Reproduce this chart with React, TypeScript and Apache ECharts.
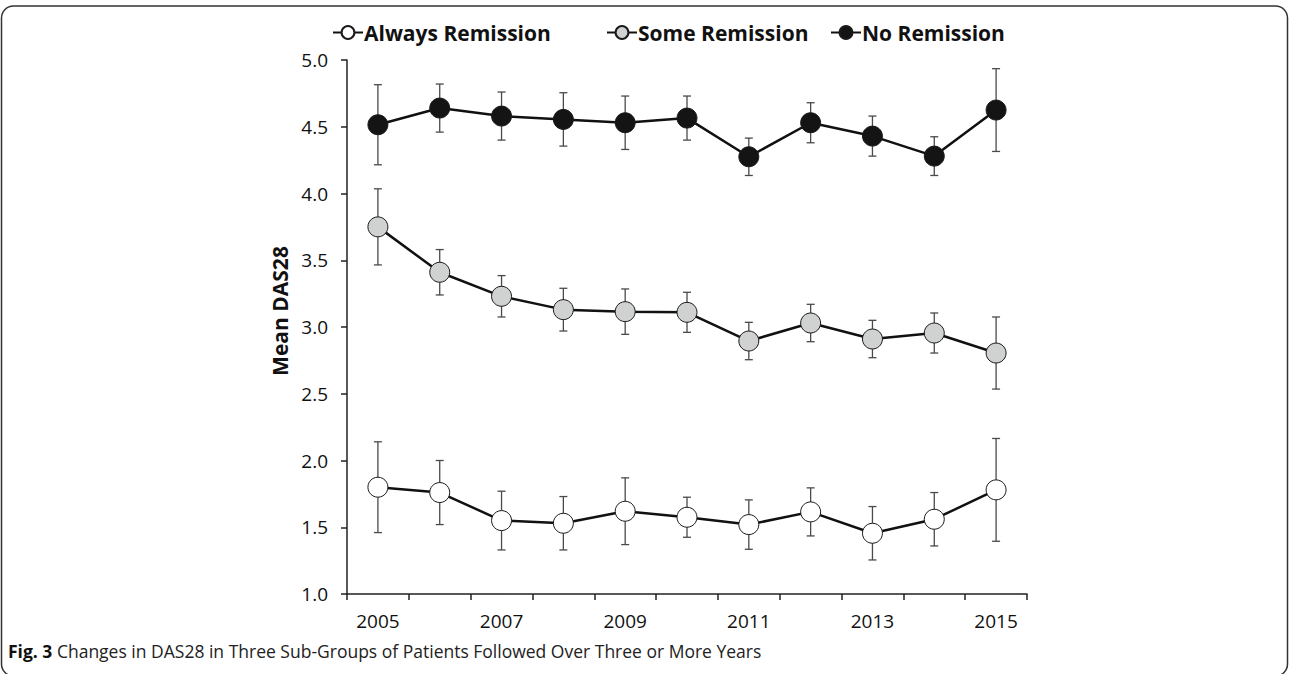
import React, { useEffect, useRef } from "react";
import * as echarts from "echarts";

const years = ["2005", "2006", "2007", "2008", "2009", "2010", "2011", "2012", "2013", "2014", "2015"];
const alwaysMean = [1.80, 1.76, 1.55, 1.53, 1.62, 1.575, 1.52, 1.615, 1.455, 1.56, 1.78];
const alwaysErr = [0.34, 0.24, 0.22, 0.2, 0.25, 0.15, 0.185, 0.18, 0.2, 0.2, 0.385];
const someMean = [3.75, 3.41, 3.23, 3.13, 3.115, 3.11, 2.895, 3.03, 2.91, 2.955, 2.805];
const someErr = [0.285, 0.17, 0.155, 0.16, 0.17, 0.15, 0.14, 0.14, 0.14, 0.15, 0.27];
const noMean = [4.515, 4.64, 4.58, 4.555, 4.53, 4.565, 4.275, 4.53, 4.43, 4.28, 4.625];
const noErr = [0.3, 0.18, 0.18, 0.2, 0.2, 0.165, 0.14, 0.15, 0.15, 0.145, 0.31];
const yTicks = { min: 1, max: 5, interval: 0.5 };
const seriesNames = ["Always Remission", "Some Remission", "No Remission"];
const seriesFills = ["#ffffff", "#d0d2d1", "#141414"];
const yTitle = "Mean DAS28";
const caption = { bold: "Fig. 3", rest: " Changes in DAS28 in Three Sub-Groups of Patients Followed Over Three or More Years" };

const FONT = "'Open Sans', 'Noto Sans', sans-serif";

export default function App() {
  const ref = useRef<HTMLDivElement>(null);
  useEffect(() => {
    if (!ref.current) return;
    const chart = echarts.init(ref.current, undefined, { renderer: "svg" });
    const means = [alwaysMean, someMean, noMean];
    const errs = [alwaysErr, someErr, noErr];

    const errSeries = means.map((m, k) => ({
      type: "custom",
      name: seriesNames[k] + " err",
      z: 1,
      silent: true,
      encode: { x: 0, y: 1 },
      data: m.map((v, i) => [i, v, errs[k][i]]),
      renderItem: (params: any, api: any) => {
        const x = api.value(0);
        const v = api.value(1);
        const e = api.value(2);
        const top = api.coord([x, v + e]);
        const bot = api.coord([x, v - e]);
        const cw = 4;
        const style = { stroke: "#4a4a4a", lineWidth: 1.3 };
        return {
          type: "group",
          children: [
            { type: "line", shape: { x1: top[0], y1: top[1], x2: bot[0], y2: bot[1] }, style },
            { type: "line", shape: { x1: top[0] - cw, y1: top[1], x2: top[0] + cw, y2: top[1] }, style },
            { type: "line", shape: { x1: bot[0] - cw, y1: bot[1], x2: bot[0] + cw, y2: bot[1] }, style },
          ],
        };
      },
    }));

    const lineSeries = means.map((m, k) => ({
      type: "line",
      name: seriesNames[k],
      z: 3,
      data: m,
      symbol: "circle",
      symbolSize: 20,
      itemStyle: { color: seriesFills[k], borderColor: "#1a1a1a", borderWidth: 1 },
      lineStyle: { color: "#111111", width: 2.5 },
    }));

    const legendLefts = [332, 606, 830];
    const legends = seriesNames.map((n, k) => ({
      data: [n],
      left: legendLefts[k],
      top: 22,
      itemWidth: 30,
      itemHeight: 16,
      itemGap: 0,
      padding: 0,
      selectedMode: false,
      textStyle: { fontFamily: FONT, fontWeight: "bold", fontSize: 21, color: "#111", padding: [0, 0, 0, -4] },
    }));

    chart.setOption({
      animation: false,
      backgroundColor: "#ffffff",
      legend: legends,
      grid: { left: 347, right: 263, top: 60, bottom: 80, containLabel: false },
      xAxis: {
        type: "category",
        data: years,
        boundaryGap: true,
        axisLine: { lineStyle: { color: "#222", width: 1.5 } },
        axisTick: { show: true, interval: 0, length: 6, lineStyle: { color: "#222", width: 1.5 } },
        axisLabel: { interval: 1, fontFamily: FONT, fontSize: 19, color: "#111", margin: 17 },
      },
      yAxis: {
        type: "value",
        min: yTicks.min,
        max: yTicks.max,
        interval: yTicks.interval,
        splitLine: { show: false },
        axisLine: { show: true, lineStyle: { color: "#222", width: 1.5 } },
        axisTick: { show: true, length: 6, lineStyle: { color: "#222", width: 1.5 } },
        axisLabel: { fontFamily: FONT, fontSize: 19, color: "#111", margin: 19, formatter: (v: number) => v.toFixed(1) },
      },
      graphic: [
        {
          type: "rect",
          shape: { x: 1.5, y: 6, width: 1286, height: 670, r: 12 },
          style: { fill: "none", stroke: "#333", lineWidth: 1.5 },
          silent: true,
        },
        {
          type: "text",
          x: 280,
          y: 311,
          rotation: Math.PI / 2,
          style: {
            text: yTitle,
            fontFamily: FONT,
            fontWeight: "bold",
            fontSize: 21,
            fill: "#111",
            align: "center",
            verticalAlign: "middle",
          },
        },
        {
          type: "text",
          left: 8,
          top: 642,
          style: {
            text: "{b|" + caption.bold + "}{r|" + caption.rest + "}",
            rich: {
              b: { fontFamily: FONT, fontWeight: "bold", fontSize: 17.5, fill: "#111" },
              r: { fontFamily: FONT, fontSize: 17.5, fill: "#222" },
            },
          },
        },
      ],
      series: [...errSeries, ...lineSeries],
    });
    return () => chart.dispose();
  }, []);
  return <div ref={ref} style={{ position: "fixed", left: 0, top: 0, width: 1290, height: 674 }} />;
}
